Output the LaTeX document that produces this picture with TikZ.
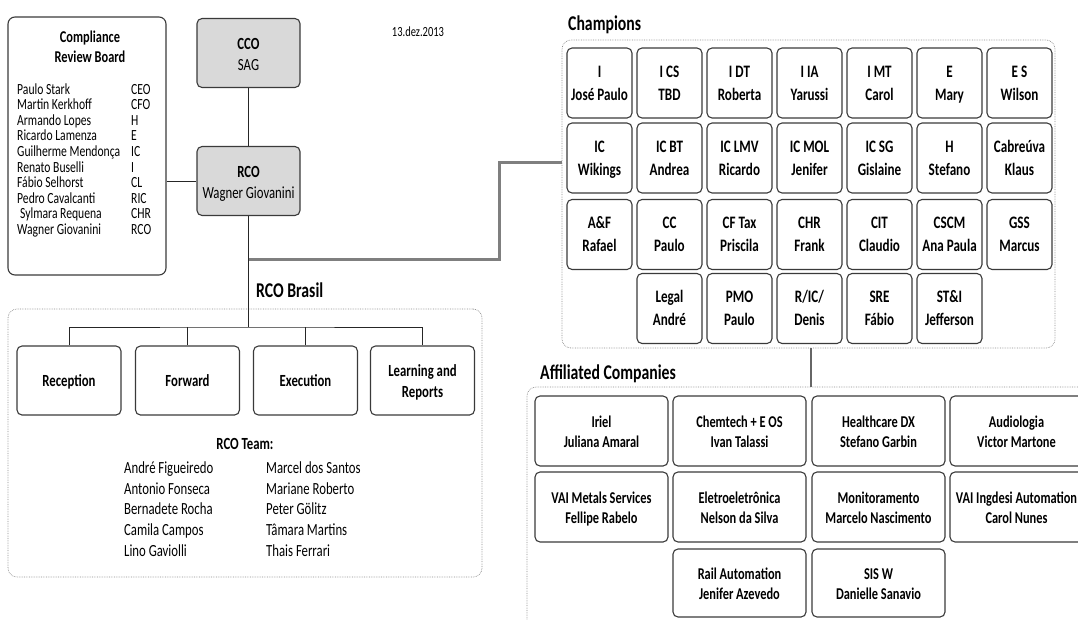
\documentclass[tikz,border=0pt]{standalone}
\usepackage{fontspec}
\setmainfont{Carlito}[FakeStretch=0.75]
\definecolor{boxline}{HTML}{3A3A3A}
\definecolor{fillgray}{HTML}{D9D9D9}
\definecolor{trunkgray}{HTML}{7F7F7F}
\definecolor{dotgray}{HTML}{8C8C8C}
\tikzset{
  box/.style={draw=boxline, line width=1.1pt, rounded corners=5pt, inner sep=0pt, align=center, text depth=5pt},
  chcell/.style={box, minimum width=65pt, minimum height=70pt, font=\fontsize{17.5}{23}\selectfont\bfseries,
    text height=39.2pt},
  afcell/.style={box, minimum width=133pt, minimum height=70pt, font=\fontsize{16.5}{20}\selectfont\bfseries,
    text height=37.6pt},
  stage/.style={box, minimum width=104pt, minimum height=69pt, font=\fontsize{17}{21}\selectfont\bfseries,
    text height=17pt},
  stage2/.style={stage, text height=38.4pt},
  headbox/.style={box, fill=fillgray, minimum width=103pt, minimum height=69pt, font=\fontsize{17}{21}\selectfont,
    text height=40pt},
  group/.style={draw=dotgray, densely dotted, line width=0.7pt, rounded corners=9pt, inner sep=0pt},
  grouptitle/.style={font=\fontsize{21}{25}\selectfont\bfseries, anchor=west, inner sep=0pt},
  listtext/.style={inner sep=0pt, anchor=base west, font=\fontsize{15.5}{16}\selectfont},
  teamtext/.style={inner sep=0pt, anchor=base west, font=\fontsize{17}{21}\selectfont},
  link/.style={draw=black!85, line width=1pt},
  trunk/.style={draw=trunkgray, line width=3pt, line join=miter},
  drop/.style={draw=black!60, line width=2pt},
}
\begin{document}
\begin{tikzpicture}[x=1pt,y=-1pt]
\useasboundingbox (0,0) rectangle (1078,619);
\clip (0,0) rectangle (1078,619);

% ---------- Compliance Review Board ----------
\node[draw=boxline, line width=1.1pt, rounded corners=7pt, minimum width=158pt, minimum height=258pt, inner sep=0pt] (crb) at (87,146) {};
\node[align=center, inner sep=0pt, font=\fontsize{16.5}{20}\selectfont\bfseries] (crbtitle) at (90,47) {Compliance\\Review Board};
\foreach \n/\r [count=\i from 0] in {
  Paulo Stark/CEO, Martin Kerkhoff/CFO, Armando Lopes/H, Ricardo Lamenza/E,
  Guilherme Mendonça/IC, Renato Buselli/I, Fábio Selhorst/CL,
  Pedro Cavalcanti/RIC, \hspace{3pt}Sylmara Requena/CHR, Wagner Giovanini/RCO} {
  \node[listtext] (crbname\i) at (17, 94+15.6*\i) {\n};
  \node[listtext] (crbrole\i) at (131, 94+15.6*\i) {\r};
}

% ---------- Top of the hierarchy ----------
\node[headbox] (cco) at (248.5,53) {\textbf{CCO}\\SAG};
\node[headbox] (rco) at (248.5,181) {\textbf{RCO}\\Wagner Giovanini};
\node[inner sep=0pt, font=\fontsize{14}{17}\selectfont] (date) at (418,32) {13.dez.2013};

\draw[link] (cco.south) -- (rco.north);
\draw[link] (crb.east |- rco.west) -- (rco.west);

% ---------- RCO Brasil ----------
\node[group, minimum width=474pt, minimum height=268pt] (brasil) at (245,443) {};
\node[grouptitle] (brasiltitle) at (256,290) {RCO Brasil};

\node[stage] (rec) at (69,380.5) {Reception};
\node[stage] (fwd) at (187.5,380.5) {Forward};
\node[stage] (exe) at (305.5,380.5) {Execution};
\node[stage2] (lr)  at (422.5,380.5) {Learning and\\Reports};

\coordinate (hub) at (248.5,327);
\draw[link] (rco.south) -- (hub);
\draw[link] (rec.north) |- (hub) -| (lr.north);
\draw[link] (fwd.north) -- (fwd.north |- hub);
\draw[link] (exe.north) -- (exe.north |- hub);

\node[inner sep=0pt, font=\fontsize{17}{21}\selectfont\bfseries] (teamtitle) at (245,444) {RCO Team:};
\foreach \a/\b [count=\i from 0] in {
  André Figueiredo/Marcel dos Santos, Antonio Fonseca/Mariane Roberto,
  Bernadete Rocha/Peter Gölitz, Camila Campos/Tâmara Martins,
  Lino Gaviolli/Thais Ferrari} {
  \node[teamtext] (teama\i) at (124, 473.5+20.7*\i) {\a};
  \node[teamtext] (teamb\i) at (266, 473.5+20.7*\i) {\b};
}

% ---------- Champions ----------
\node[group, minimum width=493pt, minimum height=308pt] (champ) at (808.5,194) {};
\node[grouptitle] (champtitle) at (568,25) {Champions};

\node[chcell] (c11) at (599.5,83) {I\\José Paulo};
\node[chcell] (c12) at (669.5,83) {I CS\\TBD};
\node[chcell] (c13) at (739.5,83) {I DT\\Roberta};
\node[chcell] (c14) at (809.5,83) {I IA\\Yarussi};
\node[chcell] (c15) at (879.5,83) {I MT\\Carol};
\node[chcell] (c16) at (949.5,83) {E\\Mary};
\node[chcell] (c17) at (1019.5,83) {E S\\Wilson};

\node[chcell] (c21) at (599.5,158) {IC\\Wikings};
\node[chcell] (c22) at (669.5,158) {IC BT\\Andrea};
\node[chcell] (c23) at (739.5,158) {IC LMV\\Ricardo};
\node[chcell] (c24) at (809.5,158) {IC MOL\\Jenifer};
\node[chcell] (c25) at (879.5,158) {IC SG\\Gislaine};
\node[chcell] (c26) at (949.5,158) {H\\Stefano};
\node[chcell] (c27) at (1019.5,158) {Cabreúva\\Klaus};

\node[chcell] (c31) at (599.5,234.5) {A\&F\\Rafael};
\node[chcell] (c32) at (669.5,234.5) {CC\\Paulo};
\node[chcell] (c33) at (739.5,234.5) {CF Tax\\Priscila};
\node[chcell] (c34) at (809.5,234.5) {CHR\\Frank};
\node[chcell] (c35) at (879.5,234.5) {CIT\\Claudio};
\node[chcell] (c36) at (949.5,234.5) {CSCM\\Ana Paula};
\node[chcell] (c37) at (1019.5,234.5) {GSS\\Marcus};

\node[chcell] (c42) at (669.5,308.5) {Legal\\André};
\node[chcell] (c43) at (739.5,308.5) {PMO\\Paulo};
\node[chcell] (c44) at (809.5,308.5) {R/IC/\\Denis};
\node[chcell] (c45) at (879.5,308.5) {SRE\\Fábio};
\node[chcell] (c46) at (949.5,308.5) {ST\&I\\Jefferson};

% RCO to the Champions
\coordinate (tap) at (248.5,259);
\coordinate (champin) at (562,162);
\draw[trunk] (tap) -- (499,259) -- (499,162) -- (champin);

% ---------- Affiliated Companies ----------
\node[group, minimum width=565pt, minimum height=243pt] (affil) at (809.5,508.5) {};
\node[grouptitle] (affiltitle) at (540,374) {Affiliated Companies};

\coordinate (champout) at (811,348);
\coordinate (affilin) at (811,387);
\draw[drop] (champout) -- (affilin);

\node[afcell] (a11) at (601.5,431) {Iriel\\Juliana Amaral};
\node[afcell] (a12) at (739.5,431) {Chemtech + E OS\\Ivan Talassi};
\node[afcell] (a13) at (878.5,431) {Healthcare DX\\Stefano Garbin};
\node[afcell] (a14) at (1016.5,431) {Audiologia\\Victor Martone};

\node[afcell] (a21) at (601.5,507) {VAI Metals Services\\Fellipe Rabelo};
\node[afcell] (a22) at (739.5,507) {Eletroeletrônica\\Nelson da Silva};
\node[afcell] (a23) at (878.5,507) {Monitoramento\\Marcelo Nascimento};
\node[afcell] (a24) at (1016.5,507) {VAI Ingdesi Automation\\Carol Nunes};

\node[afcell, minimum height=68pt] (a32) at (739.5,583) {Rail Automation\\Jenifer Azevedo};
\node[afcell, minimum height=68pt] (a33) at (878.5,583) {SIS W\\Danielle Sanavio};
\end{tikzpicture}
\end{document}
